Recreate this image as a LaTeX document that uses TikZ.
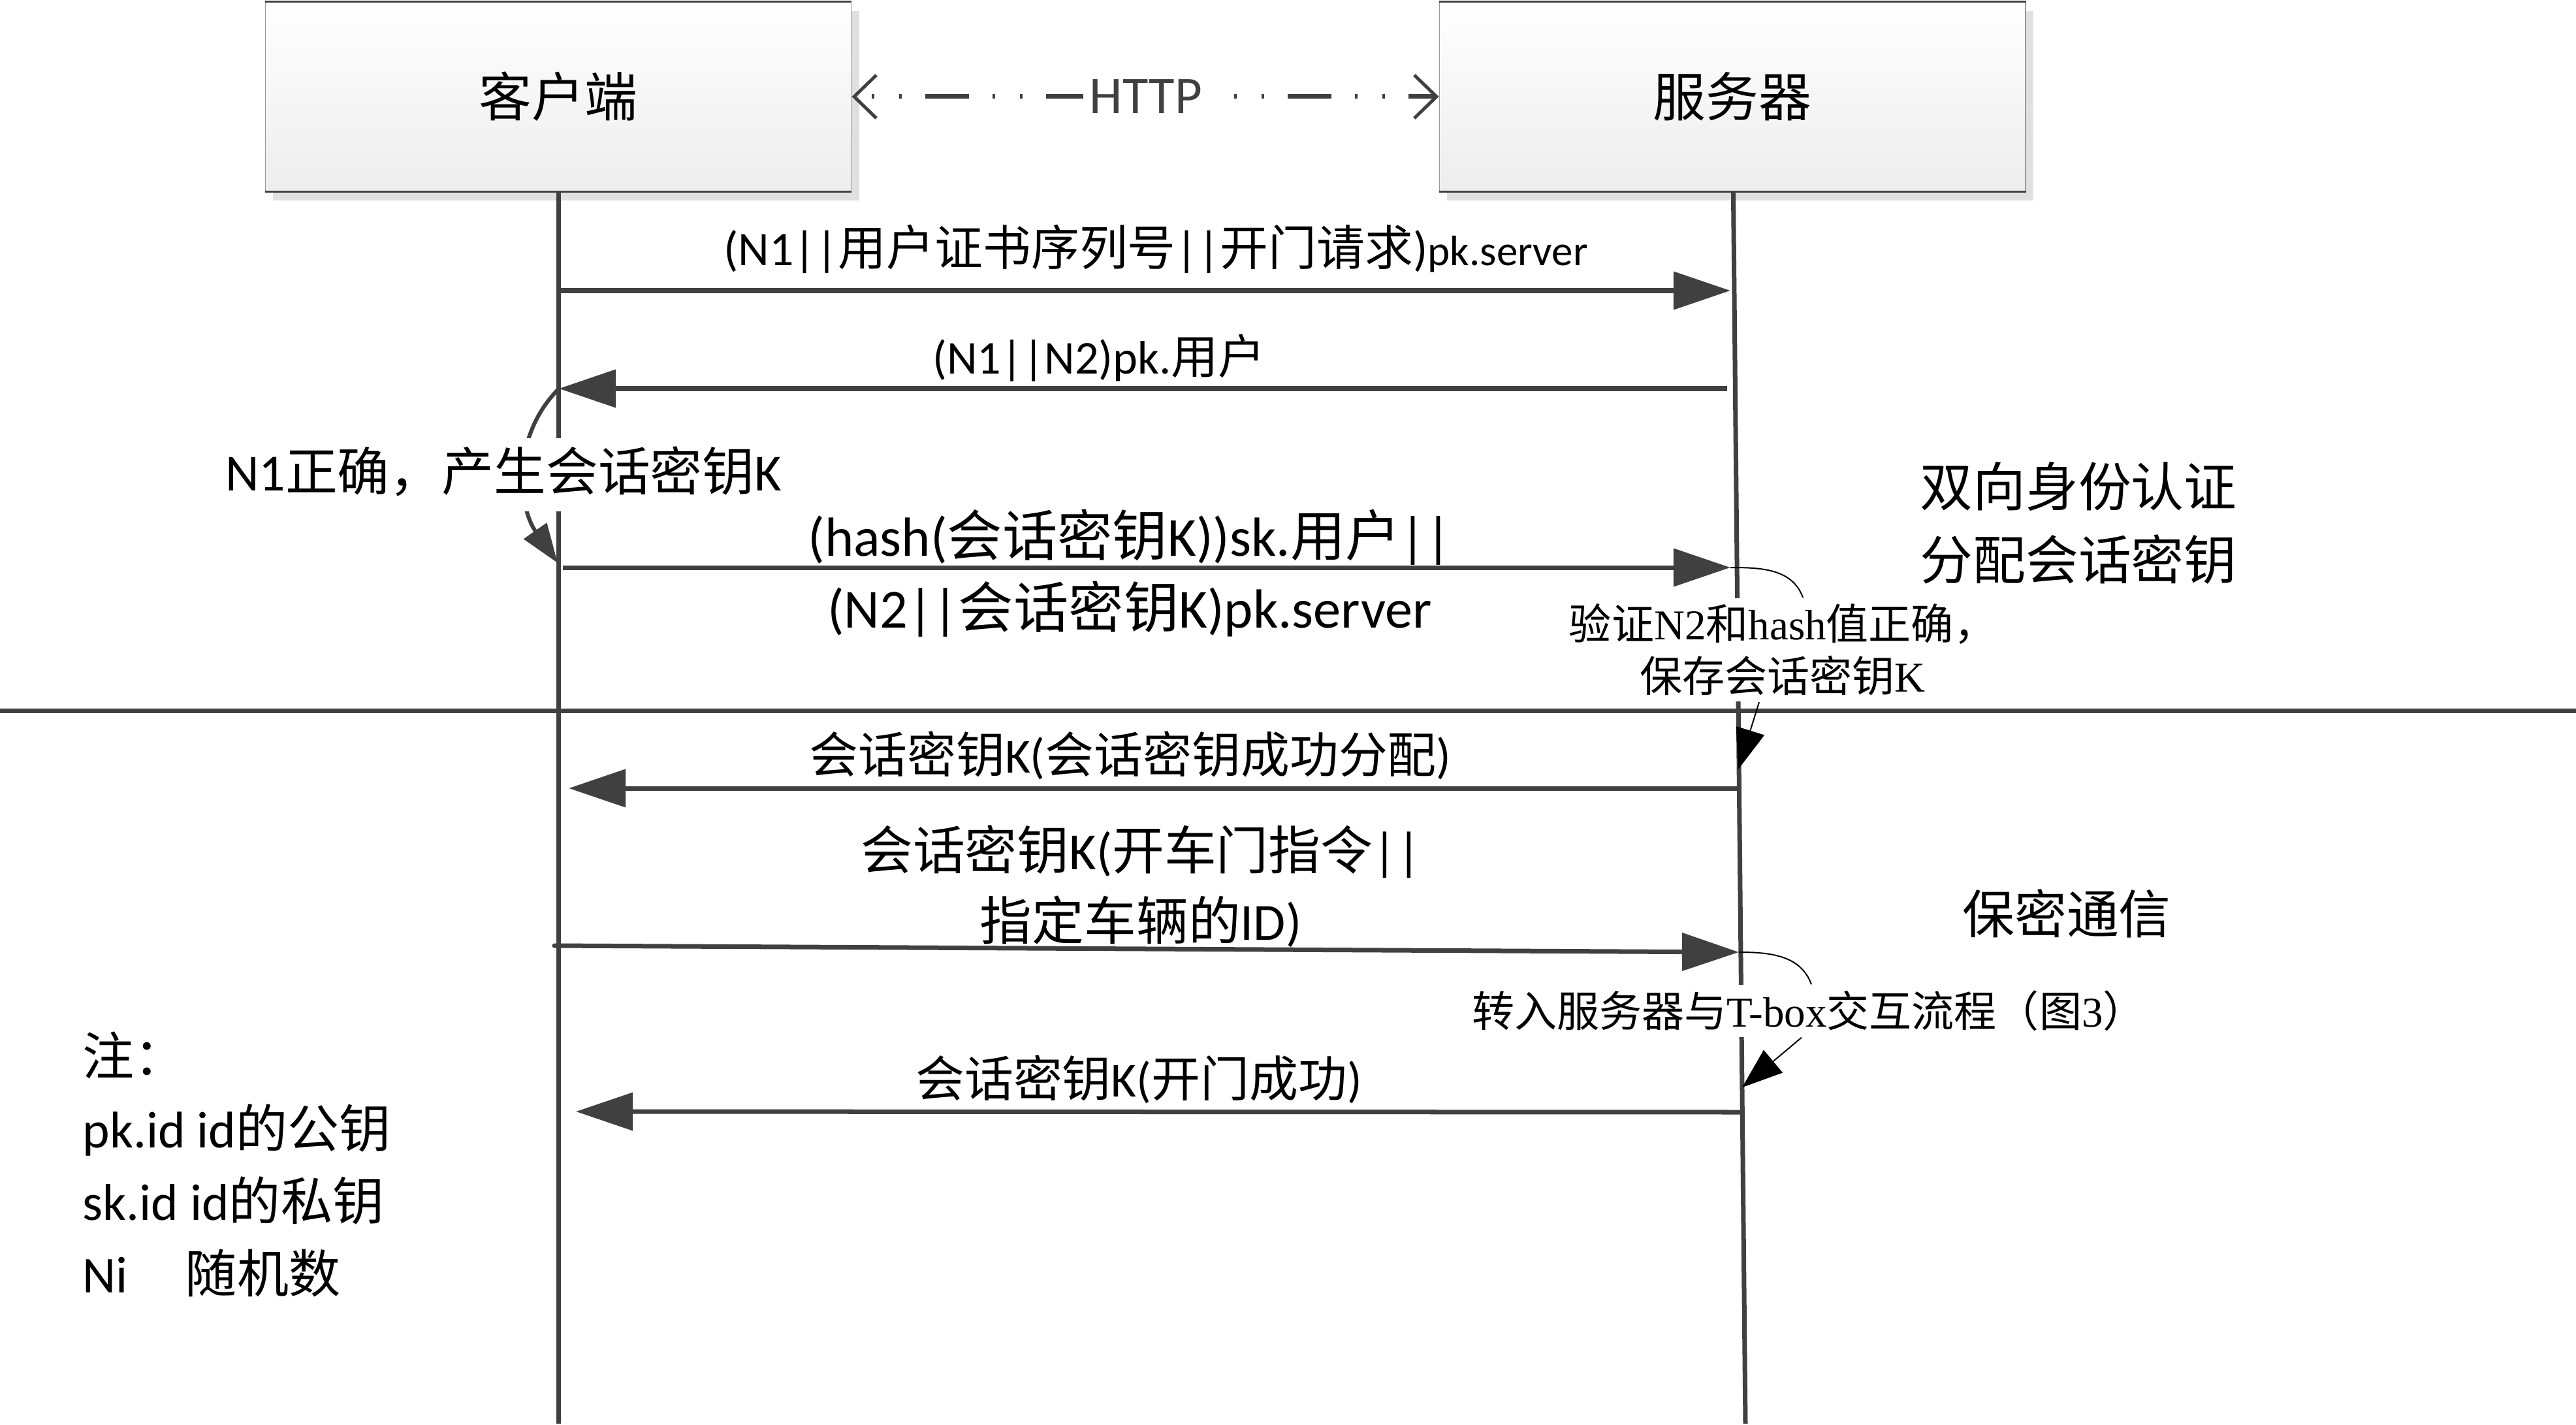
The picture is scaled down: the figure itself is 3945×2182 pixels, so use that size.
\documentclass[tikz,border=0pt]{standalone}
\usepackage{fontspec}
\setmainfont{Carlito}
\newfontfamily\zh{Noto Sans CJK SC}
\newfontfamily\serifl{Liberation Serif}
\usetikzlibrary{arrows.meta}
\usetikzlibrary{calc}
\usetikzlibrary{shadows}
\definecolor{ln}{HTML}{404040}

\begin{document}
\begin{tikzpicture}[x=0.01cm, y=-0.01cm,
  box/.style={rectangle, minimum width=8.97cm, minimum height=2.9cm, inner sep=0pt,
    top color=white, bottom color=black!7, draw=black!40, line width=0.4pt,
    drop shadow={shadow xshift=0.12cm, shadow yshift=-0.14cm, fill=black!12, opacity=1},
    font=\fontsize{23}{28}\selectfont\zh},
  life/.style={ln, line width=0.07cm},
  msg/.style={ln, line width=0.07cm, -{Triangle[length=0.87cm, width=0.57cm]}},
  http/.style={ln, line width=0.07cm,
    dash pattern=on 0.67cm off 0.36cm on 0.04cm off 0.38cm on 0.04cm off 0.36cm, dash phase=0.79cm,
    {Straight Barb[length=0.34cm, width=0.66cm, line width=0.05cm]}-{Straight Barb[length=0.34cm, width=0.66cm, line width=0.05cm]}},
  selfarc/.style={ln, line width=0.06cm, -{Triangle[length=0.6cm, width=0.42cm]}},
  note/.style={black, line width=0.02cm},
  notearr/.style={black, line width=0.02cm, -{Triangle[length=0.62cm, width=0.45cm]}},
  lbl/.style={inner sep=0pt, align=center},
  cover/.style={fill=white, inner xsep=0.05cm},
  anno/.style={cover, align=center, inner ysep=0.09cm, font=\fontsize{18.5}{22.8}\selectfont\serifl}]

\useasboundingbox (0,0) rectangle (3945,2182);

% actors
\node[box] (cl) at (855,148) {客户端};
\node[box] (sv) at (2653,148) {服务器};
\foreach \n in {cl,sv} {
  \draw[ln, line width=0.03cm] (\n.north west) -- (\n.north east);
  \draw[ln, line width=0.03cm] (\n.south west) -- (\n.south east);
}
\draw[http] (cl.east) -- node[cover, inner xsep=0.1cm, text width=1.9cm, align=left, xshift=0.1cm,
  font=\fontsize{23}{28}\selectfont] (http) {HTTP} (sv.west);

% lifelines
\coordinate (clend) at (855,2180);
\coordinate (svend) at (2673,2180);
\draw[life] (cl) -- (clend);
\draw[life] (sv) -- (svend);

% message end points
\coordinate (c1) at (855,445);  \coordinate (s1) at (2650,445);
\coordinate (c2) at (856,595);  \coordinate (s2) at (2645,595);
\coordinate (c3) at (862,869);  \coordinate (s3) at (2650,869);
\coordinate (c4) at (871,1207); \coordinate (s4) at (2662,1207);
\coordinate (c5) at (849,1448); \coordinate (s5) at (2663,1458);
\coordinate (c6) at (882,1702); \coordinate (s6) at (2668,1703);
\coordinate (c2b) at (854,862);
\coordinate (k1) at (2662,1178);
\coordinate (k2) at (2668,1665);

% separator
\coordinate (sepl) at (0,1088);
\coordinate (sepr) at (3945,1088);
\draw[ln, line width=0.07cm] (sepl) -- (sepr);

% messages
\draw[msg] (c1) -- (s1);
\draw[msg] (s2) -- (c2);
\draw[selfarc] (c2) to[out=225, in=125] (c2b);
\draw[msg] (c3) -- (s3);
\draw[msg] (s4) -- (c4);
\draw[msg, line cap=round] (c5) -- (s5);
\draw[msg] (s6) -- (c6);

\node[lbl, font=\fontsize{21}{26}\selectfont] (l1) at (1770,381)
  {(N1||{\zh 用户证书序列号}||{\zh 开门请求}){\fontsize{18.5}{22}\selectfont pk.server}};
\node[lbl, font=\fontsize{20.5}{26}\selectfont] (l2) at (1683,548) {(N1||N2)pk.{\zh 用户}};
\node[cover, inner ysep=0pt, text height=0.8cm, text depth=0.31cm, font=\fontsize{22.7}{28}\selectfont] (n1) at (771,727)
  {N1{\zh 正确，产生会话密钥}K};
\node[lbl, font=\fontsize{24}{31.3}\selectfont] (l3) at (1730,878)
  {(hash({\zh 会话密钥}K))sk.{\zh 用户}||\\(N2||{\zh 会话密钥}K)pk.server};
\node[lbl, font=\fontsize{21.3}{26}\selectfont] (l4) at (1731,1157) {{\zh 会话密钥}K({\zh 会话密钥成功分配})};
\node[lbl, font=\fontsize{22.7}{30.7}\selectfont] (l5) at (1747,1357)
  {{\zh 会话密钥}K({\zh 开车门指令}||\\{\zh 指定车辆的}ID)};
\node[lbl, font=\fontsize{21.3}{26}\selectfont] (l6) at (1744,1653) {{\zh 会话密钥}K({\zh 开门成功})};

% server notes
\node[anno] (an1) at (2730,995) {{\zh 验证}N2{\zh 和}hash{\zh 值正确，}\\{\zh 保存会话密钥}K};
\draw[note] (s3) to[out=0, in=110] ($(an1.north)+(31,0)$);
\draw[notearr] ($(an1.south)+(-36,0)$) -- (k1);
\node[anno] (an2) at (2770,1548) {{\zh 转入服务器与}T-box{\zh 交互流程（图}3{\zh ）}};
\draw[note] (s5) to[out=0, in=110] ($(an2.north)+(4,0)$);
\draw[notearr] ($(an2.south)+(-11,0)$) -- (k2);

% phase titles
\node[lbl, align=left, font=\fontsize{23}{31.9}\selectfont\zh] (ph1) at (3183,801) {双向身份认证\\分配会话密钥};
\node[lbl, font=\fontsize{22.7}{28}\selectfont\zh] (ph2) at (3165,1399) {保密通信};

% legend
\node[lbl, anchor=west, align=left, font=\fontsize{22.5}{31.6}\selectfont] (lg) at (126,1783)
  {{\zh 注：}\\pk.id id{\zh 的公钥}\\sk.id id{\zh 的私钥}\\Ni\hspace{0.88cm}{\zh 随机数}};
\end{tikzpicture}
\end{document}
